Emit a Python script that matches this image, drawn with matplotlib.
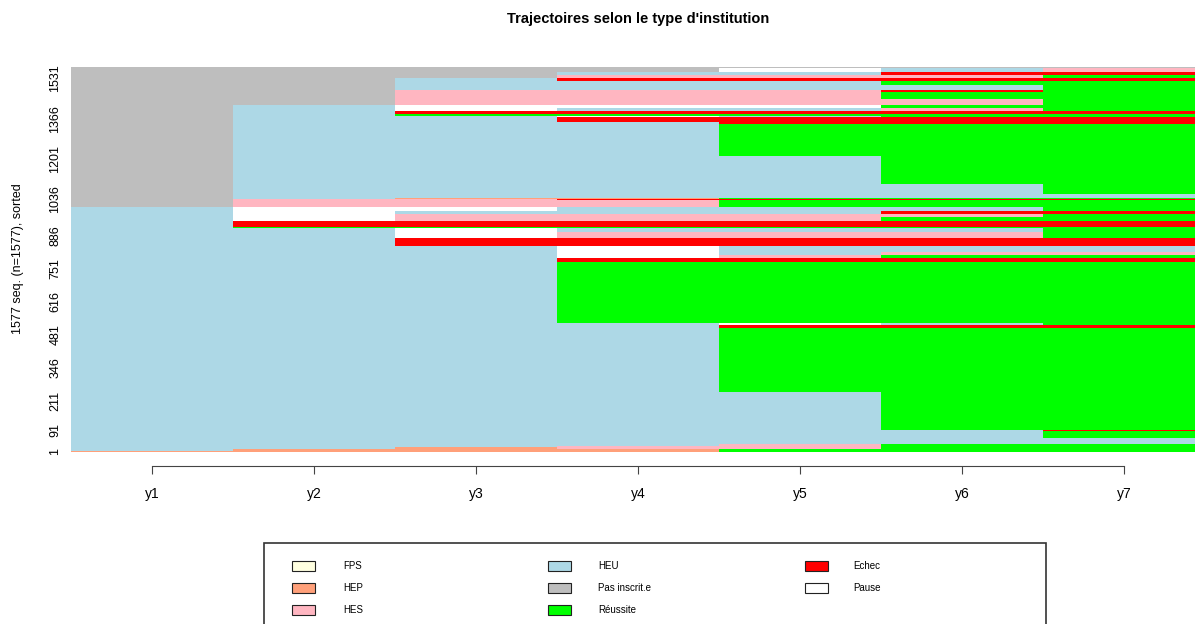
import matplotlib
matplotlib.use("Agg")
import matplotlib.pyplot as plt
from matplotlib.patches import Rectangle
import numpy as np

plt.rcParams["font.family"] = ["Liberation Sans", "DejaVu Sans"]

# states, in legend / sort order
states = ["FPS", "HEP", "HES", "HEU", "Pas inscrit.e", "Réussite", "Echec", "Pause"]
state_codes = ["F", "P", "S", "U", "N", "R", "E", "W"]
state_colors = ["#FFFFE0", "#FFA07A", "#FFB6C1", "#ADD8E6", "#BEBEBE",
                "#00FF00", "#FF0000", "#FFFFFF"]

years = ["y1", "y2", "y3", "y4", "y5", "y6", "y7"]
ytick_labels = ["1", "91", "211", "346", "481", "616", "751", "886",
                "1036", "1201", "1366", "1531"]

# distinct trajectories, sorted from start (bottom to top), one letter per year
patterns = [
    "PPPPRRR", "UPPPRRR", "UUPSSRR", "UUUSSRR", "UUUUSRR",
    "UUUUUUU", "UUUUUUR", "UUUUUUE", "UUUUURR", "UUUURRR",
    "UUUUEEE", "UUUUWUR", "UUURRRR", "UUUEEEE", "UUUWSRR",
    "UUUWUSS", "UUUWUUU", "UUEEEEE", "UUWSSSR", "UUWUUUR",
    "URRRRRR", "UEEEEEE", "UWSSSRR", "UWSSSSR", "UWUUUEE",
    "UWWUUUR", "NSSSRRR", "NSSEEEE", "NUPPRRR", "NUUUUUU",
    "NUUUUUR", "NUUUURR", "NUUURRR", "NUUUEEE", "NUUEEEE",
    "NUUWURR", "NURRRRR", "NUEEEEE", "NUWUUSR", "NUWWWRR",
    "NNSSSSR", "NNSSSRR", "NNSSSER", "NNUUUUR", "NNUUURR",
    "NNUEEEE", "NNNSSSR", "NNNUUEE", "NNNNWUS", "NNNNNNN",
]
counts = [
    5, 7, 8, 6, 7,
    24, 29, 4, 156, 261,
    13, 10, 247, 17, 12,
    12, 24, 34, 24, 18,
    4, 25, 16, 13, 11,
    15, 29, 4, 4, 18,
    41, 116, 130, 7, 21,
    6, 6, 14, 12, 11,
    24, 28, 9, 22, 14,
    14, 14, 10, 17, 4,
]

n_seq = sum(counts)
color_of = dict(zip(state_codes, state_colors))
bottoms = np.concatenate([[0], np.cumsum(counts)[:-1]])

W, H = 1195, 624
fig = plt.figure(figsize=(W / 100, H / 100), dpi=100)
ax = fig.add_axes([71 / W, 1 - 452 / H, (1205 - 71) / W, 385 / H])

for j in range(len(years)):
    cols = [color_of[p[j]] for p in patterns]
    ax.bar(np.full(len(patterns), j + 1), counts, bottom=bottoms, width=1.0,
           color=cols, linewidth=0)

ax.set_xlim(0.5, 7.5)
ax.set_ylim(0, n_seq)

# x axis like R: offset line between first and last tick
ax.set_xticks(range(1, len(years) + 1))
ax.set_xticklabels(years, fontsize=8.5)
for s in ["top", "right", "left"]:
    ax.spines[s].set_visible(False)
ax.spines["bottom"].set_position(("outward", 10))
ax.spines["bottom"].set_bounds(1, 7)
ax.spines["bottom"].set_color("#444444")
ax.tick_params(axis="x", length=6, color="#444444", pad=9)

yt = [int(v) - 0.5 for v in ytick_labels]
ax.set_yticks(yt)
ax.set_yticklabels(ytick_labels, rotation=90, va="center", fontsize=9)
ax.tick_params(axis="y", length=0, pad=7)

fig.text(638 / W, 1 - 19 / H, "Trajectoires selon le type d'institution",
         ha="center", va="center", fontsize=10.5, fontweight="bold")
fig.text(18 / W, 1 - 259 / H, f"{n_seq} seq. (n={n_seq}), sorted",
         ha="center", va="center", rotation=90, fontsize=9)

# legend box below the plot
fig.patches.append(Rectangle((264 / W, -0.05), (1046 - 264) / W, (624 - 543) / H + 0.05,
                             transform=fig.transFigure, fill=False,
                             edgecolor="#333333", linewidth=1.2))
patch_x = [292, 548, 805]
label_x = [343, 598, 853]
row_y = [566, 588, 610]
for i, (name, col) in enumerate(zip(states, state_colors)):
    c, r = i // 3, i % 3
    fig.patches.append(Rectangle((patch_x[c] / W, 1 - (row_y[r] + 5) / H), 23 / W, 10 / H,
                                 transform=fig.transFigure, facecolor=col,
                                 edgecolor="#222222", linewidth=0.8))
    fig.text(label_x[c] / W, 1 - row_y[r] / H, name, ha="left", va="center", fontsize=7)

fig.savefig("out.png", dpi=100)
